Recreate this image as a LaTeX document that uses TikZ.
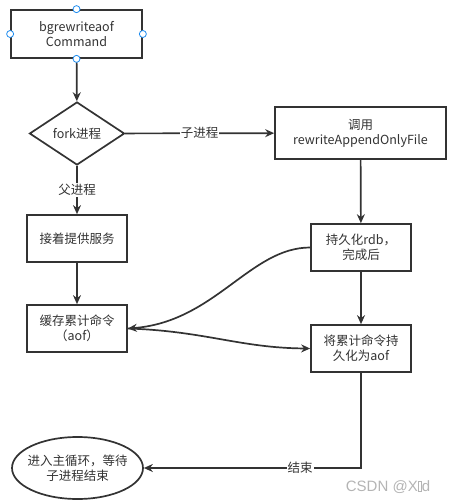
\documentclass[tikz,border=0pt]{standalone}
\usepackage{fontspec}
\setmainfont{Noto Sans CJK SC}
\newfontfamily\wmfont{Liberation Sans}
\usetikzlibrary{shapes.geometric,arrows.meta}
\definecolor{ink}{HTML}{333333}
\definecolor{handle}{HTML}{1E8CF0}
\definecolor{wmgray}{HTML}{B4B4B4}

\begin{document}
\begin{tikzpicture}[x=1pt,y=-1pt,font=\fontsize{12.5}{15}\selectfont,
  box/.style={draw=ink,line width=1.7pt,fill=white,text=ink,align=center,minimum width=100pt,minimum height=47pt,inner sep=2pt},
  decision/.style={draw=ink,line width=1.7pt,diamond,aspect=1.5,inner sep=0pt,text=ink,minimum width=95pt,minimum height=63pt},
  term/.style={draw=ink,line width=1.7pt,ellipse,text=ink,align=center,minimum width=131pt,minimum height=62pt,inner sep=-7pt},
  flow/.style={draw=ink,line width=1.7pt,-{Stealth[length=9pt,width=8pt]}},
  lbl/.style={fill=white,text=ink,inner sep=1pt}]
  \useasboundingbox (0,0) rectangle (453,503);
  \node[box,minimum width=131pt,minimum height=48pt] (cmd) at (76.5,34) {bgrewriteaof\\Command};
  \node[decision] (fork) at (77,133.5) {fork进程};
  \node[box,minimum width=171pt,minimum height=52pt] (call) at (360.5,133) {调用\\rewriteAppendOnlyFile};
  \node[box] (serve) at (77,238.5) {接着提供服务};
  \node[box] (rdb) at (361,247.5) {持久化rdb，\\完成后};
  \node[box] (cache) at (77,328.5) {缓存累计命令\\（aof）};
  \node[box] (persist) at (361,348.5) {将累计命令持\\久化为aof};
  \node[term] (loop) at (77.5,468) {进入主循环，等待\\子进程结束};
  % connectors
  \draw[flow] (cmd) -- (fork);
  \draw[flow] (fork) -- node[lbl]{子进程} (call);
  \draw[flow] (fork) -- node[lbl]{父进程} (serve);
  \draw[flow] (serve) -- (cache);
  \draw[flow] (call) -- (rdb);
  \draw[flow] (rdb) -- (persist);
  \draw[flow] (rdb.west) .. controls (250,247.5) and (215,322) .. (cache.east);
  \draw[flow] (cache.east) .. controls (205,331) and (240,348) .. (persist.west);
  \draw[flow] (persist) |- node[lbl,pos=0.64]{结束} (loop);
  % selection handles
  \foreach \a in {north,south,east,west}
    \draw[handle,fill=white,line width=0.8pt] (cmd.\a) circle (3.5pt);
  \node[text=wmgray,font=\wmfont\fontsize{15}{18}\selectfont] (wm) at (388,487) {CSDN @X{\fboxsep=0pt\fboxrule=0.5pt\fbox{\vphantom{X}\hspace{3pt}}}d};
\end{tikzpicture}
\end{document}
